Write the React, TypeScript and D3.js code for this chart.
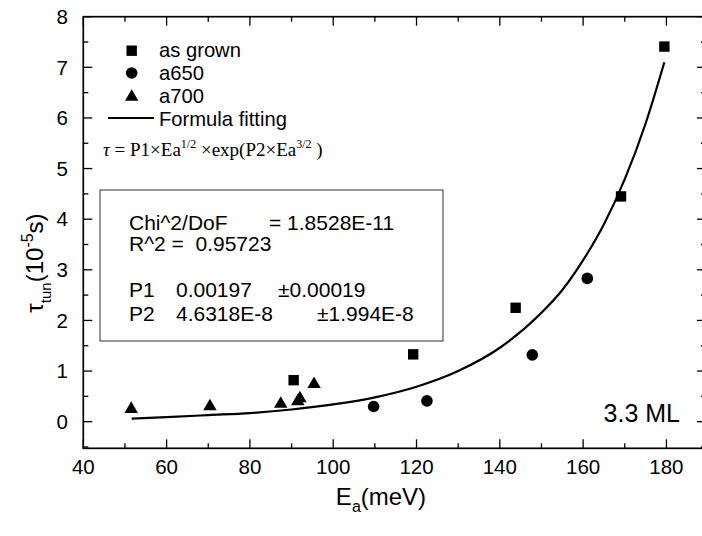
import React from "react";
import * as d3 from "d3";

const asGrownE = [90.5, 119.2, 143.8, 169.1, 179.5];
const asGrownTau = [0.82, 1.33, 2.25, 4.45, 7.41];
const a650E = [109.7, 122.5, 147.8, 161.0];
const a650Tau = [0.3, 0.41, 1.32, 2.83];
const a700E = [51.5, 70.4, 87.4, 91.5, 92.0, 95.4];
const a700Tau = [0.25, 0.3, 0.35, 0.4, 0.46, 0.74];
const fitE = [51.6, 60, 70, 80, 90, 100, 110, 120, 130, 140, 150, 155, 160, 165, 170, 175, 179.5];
const fitTau = [0.06, 0.09, 0.13, 0.17, 0.24, 0.34, 0.48, 0.69, 1.0, 1.46, 2.15, 2.6, 3.19, 3.9, 4.79, 5.89, 7.1];
const xTicks = [40, 60, 80, 100, 120, 140, 160, 180];
const yTicks = [0, 1, 2, 3, 4, 5, 6, 7, 8];
const legendLabels = ["as grown", "a650", "a700", "Formula fitting"];
const boxLines = ["Chi^2/DoF", "= 1.8528E-11", "R^2 =  0.95723", "P1", "0.00197", "±0.00019", "P2", "4.6318E-8", "±1.994E-8"];

const W = 702, H = 536;
const L = 83.3, R = 706, T = 16.7, B = 448.3;
const x = d3.scaleLinear().domain([40, 189.5]).range([L, R]);
const y = d3.scaleLinear().domain([-0.526, 8]).range([B, T]);
const SANS = "'Liberation Sans', Arial, sans-serif";
const SERIF = "'Liberation Serif', 'Times New Roman', serif";

function Square({ cx, cy }: { cx: number; cy: number }) {
  return <rect x={cx - 5.2} y={cy - 5.2} width={10.4} height={10.4} fill="#000" />;
}
function Circle({ cx, cy }: { cx: number; cy: number }) {
  return <circle cx={cx} cy={cy} r={5.8} fill="#000" />;
}
function Tri({ cx, cy }: { cx: number; cy: number }) {
  const tri = d3.symbol().type(d3.symbolTriangle).size(78)();
  return <path d={tri || ""} transform={`translate(${cx},${cy})`} fill="#000" />;
}

export default function App() {
  const line = d3
    .line<number>()
    .x((_, i) => x(fitE[i]))
    .y((_, i) => y(fitTau[i]))
    .curve(d3.curveMonotoneX);
  const xMinor = d3.range(40, 190, 10);
  const yMinor = d3.range(-0.5, 8.01, 0.5);
  const fs = 20.5;
  return (
    <svg
      width={W}
      height={H}
      style={{ position: "absolute", left: 0, top: 0, background: "#fff" }}
      fontFamily={SANS}
    >
      <rect x={0} y={0} width={W} height={H} fill="#fff" />
      <g stroke="#000" strokeWidth={1.3}>
        {xMinor.map((v) => {
          const major = v % 20 === 0;
          const len = major ? 9 : 5;
          return (
            <g key={"xt" + v}>
              <line x1={x(v)} x2={x(v)} y1={B} y2={B - len} />
              <line x1={x(v)} x2={x(v)} y1={T} y2={T + len} />
            </g>
          );
        })}
        {yMinor.map((v) => {
          const major = Math.abs(v - Math.round(v)) < 1e-6;
          const len = major ? 9 : 5;
          return (
            <g key={"yt" + v}>
              <line x1={L} x2={L + len} y1={y(v)} y2={y(v)} />
              <line x1={R} x2={R - len} y1={y(v)} y2={y(v)} />
            </g>
          );
        })}
      </g>
      <rect x={L} y={T} width={R - L} height={B - T} fill="none" stroke="#000" strokeWidth={1.7} />
      {xTicks.map((v) => (
        <text key={"xl" + v} x={x(v)} y={B + 26} fontSize={fs} textAnchor="middle">
          {v}
        </text>
      ))}
      {yTicks.map((v) => (
        <text key={"yl" + v} x={68} y={y(v) + 7.3} fontSize={fs} textAnchor="end">
          {v}
        </text>
      ))}
      <text x={381} y={505} fontSize={24} textAnchor="middle">
        E<tspan fontSize={16} dy={7}>a</tspan>
        <tspan dy={-7}>(meV)</tspan>
      </text>
      <g transform="translate(43,263) rotate(-90)">
        <text x={0} y={0} fontSize={24} textAnchor="middle">
          τ<tspan fontSize={15} dy={8}>tun</tspan>
          <tspan dy={-8}>(10</tspan>
          <tspan fontSize={16} dy={-10}>-5</tspan>
          <tspan dy={10}>s)</tspan>
        </text>
      </g>
      <Square cx={131.7} cy={50.7} />
      <Circle cx={131.7} cy={73} />
      <Tri cx={131.7} cy={97} />
      <line x1={108} x2={154} y1={118} y2={118} stroke="#000" strokeWidth={2} />
      <g fontSize={20.2}>
        <text x={159} y={57}>{legendLabels[0]}</text>
        <text x={159} y={80}>{legendLabels[1]}</text>
        <text x={159} y={103}>{legendLabels[2]}</text>
        <text x={159} y={126}>{legendLabels[3]}</text>
      </g>
      <text x={103} y={156} fontSize={19} fontFamily={SERIF}>
        <tspan fontStyle="italic">τ</tspan> = P1×Ea<tspan fontSize={12} dy={-8}>1/2</tspan>
        <tspan dy={8}> ×exp(P2×Ea</tspan>
        <tspan fontSize={12} dy={-8}>3/2</tspan>
        <tspan dy={8}> )</tspan>
      </text>
      <rect x={100} y={190} width={343} height={151} fill="#fff" stroke="#333" strokeWidth={1} />
      <g fontSize={21}>
        <text x={129} y={230}>{boxLines[0]}</text>
        <text x={269} y={230}>{boxLines[1]}</text>
        <text x={129} y={251} style={{ whiteSpace: "pre" }}>{boxLines[2]}</text>
        <text x={129} y={297}>{boxLines[3]}</text>
        <text x={176} y={297}>{boxLines[4]}</text>
        <text x={278} y={297}>{boxLines[5]}</text>
        <text x={129} y={321}>{boxLines[6]}</text>
        <text x={176} y={321}>{boxLines[7]}</text>
        <text x={317} y={321}>{boxLines[8]}</text>
      </g>
      <path d={line(fitE) || ""} fill="none" stroke="#000" strokeWidth={2.2} />
      {asGrownE.map((e, i) => (
        <Square key={"s" + i} cx={x(e)} cy={y(asGrownTau[i])} />
      ))}
      {a650E.map((e, i) => (
        <Circle key={"c" + i} cx={x(e)} cy={y(a650Tau[i])} />
      ))}
      {a700E.map((e, i) => (
        <Tri key={"t" + i} cx={x(e)} cy={y(a700Tau[i])} />
      ))}
      <text x={680} y={422} fontSize={25} textAnchor="end">3.3 ML</text>
    </svg>
  );
}
